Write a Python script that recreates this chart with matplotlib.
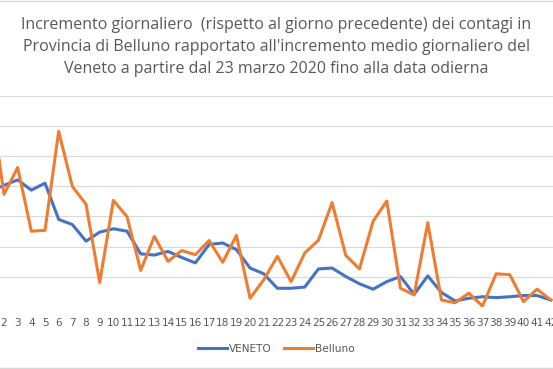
import matplotlib
matplotlib.use("Agg")
import matplotlib.pyplot as plt
from matplotlib.lines import Line2D

# giorni dal 23 marzo 2020 (1..42)
giorni = list(range(1, 43))

veneto = [3.83, 4.03, 4.21, 3.87, 4.10, 2.90, 2.73, 2.18, 2.48, 2.59,
          2.51, 1.76, 1.72, 1.84, 1.64, 1.46, 2.07, 2.12, 1.90, 1.29,
          1.10, 0.62, 0.62, 0.66, 1.26, 1.29, 1.01, 0.77, 0.59, 0.84,
          1.01, 0.42, 1.03, 0.48, 0.20, 0.29, 0.34, 0.31, 0.34, 0.38,
          0.38, 0.23]

belluno = [6.90, 3.73, 4.62, 2.51, 2.54, 5.82, 3.99, 3.40, 0.81, 3.53,
           2.99, 1.21, 2.34, 1.51, 1.87, 1.73, 2.20, 1.48, 2.37, 0.29,
           0.90, 1.68, 0.84, 1.79, 2.21, 3.46, 1.71, 1.26, 2.84, 3.51,
           0.62, 0.40, 2.79, 0.23, 0.14, 0.46, 0.03, 1.10, 1.07, 0.18,
           0.59, 0.23]

titolo = ("Incremento giornaliero  (rispetto al giorno precedente) dei contagi in\n"
          "Provincia di Belluno rapportato all'incremento medio giornaliero del\n"
          "Veneto a partire dal 23 marzo 2020 fino alla data odierna")

BLU = "#4472C4"
ARANCIO = "#ED7D31"
GRIGIO = "#595959"
GRIGLIA = "#D9D9D9"

W, H = 553, 369
fig = plt.figure(figsize=(W / 100, H / 100), dpi=100)
ax = fig.add_axes([0, (H - 307) / H, 1, (307 - 95) / H])

ax.plot(giorni, veneto, color=BLU, lw=2.2, solid_joinstyle="round")
ax.plot(giorni, belluno, color=ARANCIO, lw=2.2, solid_joinstyle="round")

ax.set_xticks(giorni)
ax.set_xticklabels([str(g) for g in giorni])
ax.set_yticks(range(0, 8))
# il grafico originale è ritagliato ai lati
ax.set_xlim(1.707, 42.16)
ax.set_ylim(0, 7.02)
ax.tick_params(axis="x", length=0, pad=8, labelsize=7.6, labelcolor=GRIGIO)
ax.tick_params(axis="y", length=0, labelleft=False)
ax.grid(True, axis="y", color=GRIGLIA, lw=0.8)
ax.set_axisbelow(True)
for s in ax.spines.values():
    s.set_visible(False)

fig.text(0.5, 1 - 47 / H, titolo, ha="center", va="center", fontsize=11.5,
         color=GRIGIO, linespacing=1.52, family="Open Sans")

handles = [Line2D([], [], color=BLU, lw=2.2), Line2D([], [], color=ARANCIO, lw=2.2)]
fig.legend(handles, ["VENETO", "Belluno"], loc="center", bbox_to_anchor=(0.5, 1 - 349 / H),
           ncol=2, frameon=False, fontsize=7.6, labelcolor=GRIGIO,
           handlelength=2.7, handletextpad=0.2, columnspacing=1.2)

# bordi dell'area del grafico
fig.add_artist(Line2D([0, 1], [1 - 1 / H, 1 - 1 / H], color=GRIGLIA, lw=1))
fig.add_artist(Line2D([0, 1], [1 / H, 1 / H], color=GRIGLIA, lw=1))

fig.savefig("out.png", dpi=100)
